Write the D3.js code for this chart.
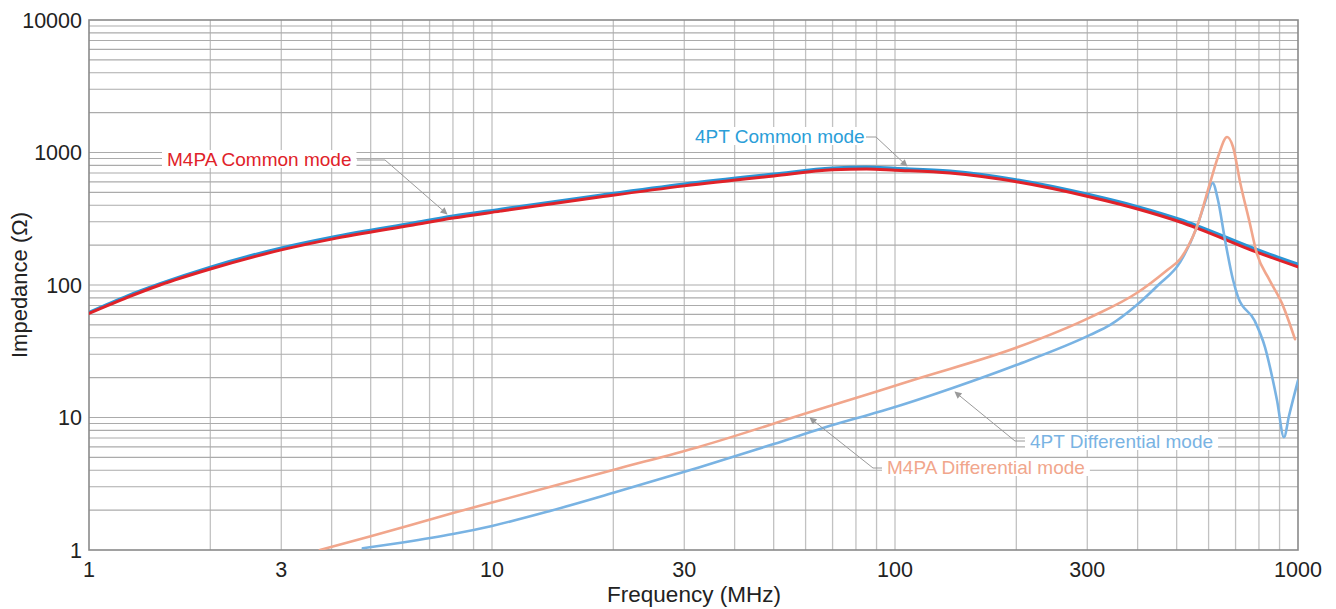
<!DOCTYPE html>
<html><head><meta charset="utf-8">
<script src="https://cdn.jsdelivr.net/npm/d3@7/dist/d3.min.js"></script>
<style>
html,body{margin:0;padding:0;background:#fff;}
svg{display:block;font-family:"Liberation Sans",Arial,Helvetica,sans-serif;}
</style></head>
<body>
<svg id="chart" width="1336" height="609"></svg>
<script>
// ---- data ----
const xTickValues = [1, 3, 10, 30, 100, 300, 1000];
const xTickLabels = ["1", "3", "10", "30", "100", "300", "1000"];
const yTickValues = [1, 10, 100, 1000, 10000];
const yTickLabels = ["1", "10", "100", "1000", "10000"];

const cmFreq = [1, 1.25, 1.5, 2, 3, 4, 6.37, 8, 10.5, 18.5, 30, 50, 70, 85, 100, 137, 202, 305, 400, 510, 561, 790, 1000];
const m4paCommon = [61, 81, 100, 132, 184, 222, 284, 320, 361, 461, 560, 665, 740, 750, 735, 700, 599, 462, 375, 299, 269, 177, 137];
const pt4Common = [62, 83, 102, 136, 190, 229, 293, 330, 372, 475, 577, 685, 762, 773, 757, 722, 618, 478, 389, 311, 280, 185, 143];

const pt4DiffFreq = [4.78, 6, 8, 10, 14, 20.4, 32.6, 50, 66, 91.8, 100, 139, 200, 305, 342, 398, 450, 510, 561, 594, 614, 633, 659, 690, 710, 780, 828, 866, 887, 923, 950, 1000];
const pt4Diff = [1.03, 1.14, 1.32, 1.52, 1.98, 2.75, 4.2, 6.3, 8.3, 11.1, 12, 16.7, 24.9, 42, 50, 70.6, 100, 149, 274, 461, 589, 438, 219, 109, 81, 54, 34, 19.2, 13.5, 7.1, 10.3, 19];

const m4paDiffFreq = [3.74, 5, 8, 10, 20.4, 32.6, 60.5, 91.8, 111, 202, 305, 398, 474, 510, 533, 561, 605, 633, 667, 690, 719, 756, 790, 850, 912, 983];
const m4paDiff = [1.0, 1.27, 1.9, 2.28, 4.09, 6.0, 10.8, 16.0, 19.2, 34, 57, 87, 130, 157, 194, 274, 589, 925, 1309, 1100, 589, 310, 174, 109, 73, 39];

const seriesNames = ["4PT Common mode", "M4PA Common mode", "4PT Differential mode", "M4PA Differential mode"];

// ---- layout ----
const svg = d3.select("#chart");
const L = 89, R = 1298, T = 20, B = 550;
const x = d3.scaleLog().domain([1, 1000]).range([L, R]);
const y = d3.scaleLog().domain([1, 10000]).range([B, T]);

const g = svg.append("g");

// grid lines
const xMinor = [];
for (let d = 1; d < 1000; d *= 10) for (let k = 2; k <= 9; k++) xMinor.push(d * k);
const yAll = [];
for (let d = 1; d < 10000; d *= 10) for (let k = 2; k <= 9; k++) yAll.push(d * k);
[10, 100].forEach(v => xMinor.push(v));
[10, 100, 1000].forEach(v => yAll.push(v));

g.selectAll(".vg").data(xMinor).join("line")
  .attr("x1", d => x(d)).attr("x2", d => x(d)).attr("y1", T).attr("y2", B)
  .attr("stroke", "#c2c2c2").attr("stroke-width", 1.3);
g.selectAll(".hg").data(yAll).join("line")
  .attr("x1", L).attr("x2", R).attr("y1", d => y(d)).attr("y2", d => y(d))
  .attr("stroke", "#ababab").attr("stroke-width", 1.1);

// frame
g.append("rect").attr("x", L).attr("y", T).attr("width", R - L).attr("height", B - T)
  .attr("fill", "none").attr("stroke", "#8a8a8a").attr("stroke-width", 1.6);

// axes tick labels
svg.append("g").selectAll("text").data(xTickValues).join("text")
  .attr("x", d => x(d)).attr("y", 577).attr("text-anchor", "middle")
  .attr("font-size", 21.5).attr("fill", "#222")
  .text((d, i) => xTickLabels[i]);
svg.append("g").selectAll("text").data(yTickValues).join("text")
  .attr("x", 82).attr("y", d => y(d) + 7.5).attr("text-anchor", "end")
  .attr("font-size", 21.5).attr("fill", "#222")
  .text((d, i) => yTickLabels[i]);

svg.append("text").attr("x", 694).attr("y", 602).attr("text-anchor", "middle")
  .attr("font-size", 22.5).attr("fill", "#222").text("Frequency (MHz)");
svg.append("text").attr("transform", "translate(27,285) rotate(-90)").attr("text-anchor", "middle")
  .attr("font-size", 22).attr("fill", "#222").text("Impedance (Ω)");

// clip
svg.append("clipPath").attr("id", "clip").append("rect")
  .attr("x", L).attr("y", T).attr("width", R - L).attr("height", B - T);

const line = d3.line().x(d => x(d[0])).y(d => y(d[1])).curve(d3.curveMonotoneX);
const lines = svg.append("g").attr("clip-path", "url(#clip)");
function drawSeries(fr, vals, color, w) {
  lines.append("path").datum(fr.map((f, i) => [f, vals[i]]))
    .attr("d", line).attr("fill", "none").attr("stroke", color)
    .attr("stroke-width", w).attr("stroke-linejoin", "round").attr("stroke-linecap", "round");
}
const colBlueCM = "#2b95d6", colRed = "#e02229", colBlueDiff = "#79b3e3", colSalmon = "#f1a68c";
drawSeries(cmFreq, pt4Common, colBlueCM, 3.4);
drawSeries(cmFreq, m4paCommon, colRed, 3);
drawSeries(pt4DiffFreq, pt4Diff, colBlueDiff, 2.6);
drawSeries(m4paDiffFreq, m4paDiff, colSalmon, 2.6);

// annotations
svg.append("defs").append("marker").attr("id", "arr").attr("viewBox", "0 0 10 10")
  .attr("refX", 9).attr("refY", 5).attr("markerWidth", 11).attr("markerHeight", 7)
  .attr("markerUnits", "userSpaceOnUse").attr("orient", "auto")
  .append("path").attr("d", "M0,0 L10,5 L0,10 Z").attr("fill", "#9a9a9a");

const ann = svg.append("g");
function annotate(label, color, tx, ty, pts) {
  const t = ann.append("text").attr("x", tx).attr("y", ty).attr("text-anchor", "start")
    .attr("font-size", 19).attr("fill", color).text(label);
  const bb = t.node().getBBox();
  ann.insert("rect", "text").attr("x", bb.x - 5).attr("y", bb.y + 1).attr("width", bb.width + 10)
    .attr("height", bb.height - 3).attr("fill", "#fff");
  ann.append("path").attr("d", d3.line()(pts)).attr("fill", "none")
    .attr("stroke", "#9a9a9a").attr("stroke-width", 1).attr("marker-end", "url(#arr)");
}
annotate(seriesNames[1], colRed, 167, 166, [[357, 160], [385, 160], [447, 214]]);
annotate(seriesNames[0], "#2a9ed8", 695, 143, [[866, 137], [876, 137], [907, 166]]);
annotate(seriesNames[2], colBlueDiff, 1030, 448, [[1025, 441], [1015, 441], [955, 392]]);
annotate(seriesNames[3], colSalmon, 887, 474, [[882, 468], [873, 468], [810, 418]]);
</script>
</body></html>
